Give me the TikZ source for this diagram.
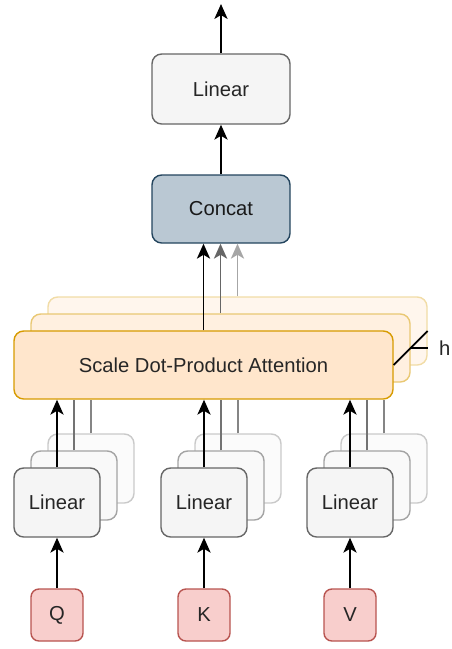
\documentclass[tikz,border=0pt]{standalone}
\usepackage{fontspec}
\setmainfont{Liberation Sans}
\definecolor{linfill}{HTML}{F5F5F5}
\definecolor{lindraw}{HTML}{666666}
\definecolor{catfill}{HTML}{BAC8D3}
\definecolor{catdraw}{HTML}{23445D}
\definecolor{attfill}{HTML}{FFE6CC}
\definecolor{attdraw}{HTML}{D79B00}
\definecolor{inpfill}{HTML}{F8CECC}
\definecolor{inpdraw}{HTML}{B85450}
\usetikzlibrary{
    arrows.meta,
    positioning,
    calc
}
\tikzset{
    box/.style={draw, line width=0.8pt, rounded corners=5.5pt, inner sep=0pt,
                font=\fontsize{11.5}{13}\selectfont, text=black!85},
    linbox/.style={box, draw=lindraw, fill=linfill,
                   minimum width=1.72cm, minimum height=1.38cm},
    linbox2/.style={linbox, draw=lindraw!60, fill=linfill!60},
    linbox3/.style={linbox, draw=lindraw!35, fill=linfill!35},
    attbox/.style={box, draw=attdraw, fill=attfill,
                   minimum width=7.58cm, minimum height=1.36cm},
    attbox2/.style={attbox, draw=attdraw!55, fill=attfill!60},
    attbox3/.style={attbox, draw=attdraw!35, fill=attfill!35},
    inpbox/.style={box, draw=inpdraw, fill=inpfill, rounded corners=4.5pt,
                   minimum width=1.04cm, minimum height=1.04cm},
    flow/.style={-{Stealth[length=8.5pt,width=7.5pt,inset=2.2pt]}, line width=1pt, black},
    copyline/.style={line width=0.9pt}
}

\begin{document}
\begin{tikzpicture}
    \useasboundingbox (0,0) rectangle (9.04,-12.98);

    % Output head
    \node[box, draw=lindraw, fill=linfill, minimum width=2.76cm, minimum height=1.4cm]
        (lin) at (4.42,-1.78) {Linear};
    \coordinate (out) at (4.42,-0.08);
    \node[box, draw=catdraw, fill=catfill, minimum width=2.76cm, minimum height=1.36cm,
          text=black!90] (concat) at (4.42,-4.18) {Concat};

    % Attention, h copies stacked
    \node[attbox3] (att3) at (4.75,-6.62) {};
    \node[attbox2] (att2) at (4.41,-6.96) {};
    \node[attbox] (att1) at (4.07,-7.30) {Scale Dot-Product Attention};

    % Linear projections, one stack per input
    \node[linbox3] (lq3) at (1.82,-9.37) {};
    \node[linbox2] (lq2) at (1.48,-9.71) {};
    \node[linbox] (lq1) at (1.14,-10.05) {Linear};

    \node[linbox3] (lk3) at (4.76,-9.37) {};
    \node[linbox2] (lk2) at (4.42,-9.71) {};
    \node[linbox] (lk1) at (4.08,-10.05) {Linear};

    \node[linbox3] (lv3) at (7.68,-9.37) {};
    \node[linbox2] (lv2) at (7.34,-9.71) {};
    \node[linbox] (lv1) at (7.00,-10.05) {Linear};

    % Inputs
    \node[inpbox] (q) at (1.14,-12.30) {Q};
    \node[inpbox] (k) at (4.08,-12.30) {K};
    \node[inpbox] (v) at (7.00,-12.30) {V};

    % Arrows
    \draw[flow] (q) -- (lq1);
    \draw[flow] (k) -- (lk1);
    \draw[flow] (v) -- (lv1);

    \draw[flow] (lq1.north) -- (lq1.north |- att1.south);
    \draw[copyline, black!55] (lq2.north) -- (lq2.north |- att1.south);
    \draw[copyline, black!48] (lq3.north) -- (lq3.north |- att1.south);
    \draw[flow] (lk1.north) -- (lk1.north |- att1.south);
    \draw[copyline, black!55] (lk2.north) -- (lk2.north |- att1.south);
    \draw[copyline, black!48] (lk3.north) -- (lk3.north |- att1.south);
    \draw[flow] (lv1.north) -- (lv1.north |- att1.south);
    \draw[copyline, black!55] (lv2.north) -- (lv2.north |- att1.south);
    \draw[copyline, black!48] (lv3.north) -- (lv3.north |- att1.south);

    \draw[flow, black!35] (att3.north) -- (att3.north |- concat.south);
    \draw[flow, black!60] (att2.north) -- (att2.north |- concat.south);
    \draw[flow] (att1.north) -- (att1.north |- concat.south);

    \draw[flow] (concat) -- (lin);
    \draw[flow] (lin) -- (out);

    % h marker
    \coordinate (hend) at (att3.east |- att2.east);
    \draw[line width=1pt] (att1.east) -- (att3.east);
    \draw[line width=1pt] (att2.east) -- (hend);
    \node[font=\fontsize{11.5}{13}\selectfont, text=black!85, inner sep=0pt,
          right=0.22cm of hend] (hlab) {h};
\end{tikzpicture}
\end{document}
